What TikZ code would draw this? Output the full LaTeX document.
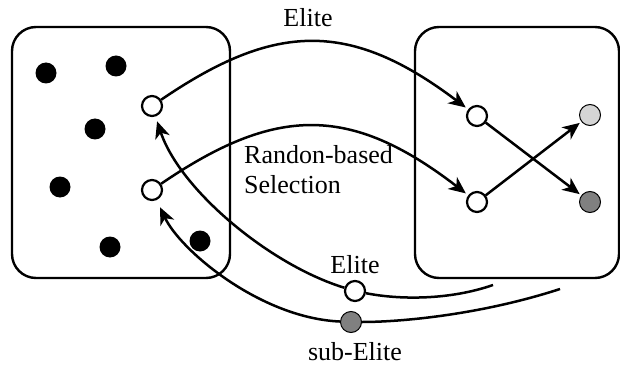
\documentclass[tikz,border=0pt]{standalone}
\usepackage{fontspec}
\setmainfont{Liberation Serif}
\usetikzlibrary{arrows.meta}
\definecolor{lightdot}{HTML}{D4D4D4}
\definecolor{darkdot}{HTML}{808080}
\begin{document}
\begin{tikzpicture}[x=1pt,y=-1pt,
  box/.style={draw,line width=2.4pt,rounded corners=24pt},
  dot/.style={circle,inner sep=0pt,minimum size=21pt,fill=black},
  hollow/.style={circle,inner sep=0pt,minimum size=20pt,draw,line width=2.2pt,fill=white},
  shade/.style={circle,inner sep=0pt,minimum size=21pt,draw,line width=1pt},
  arrowline/.style={line width=2.5pt,arrows={-Stealth[length=17pt,width=15pt,inset=5pt]}},
  plain/.style={line width=2.5pt},
  lbl/.style={font=\fontsize{26}{30}\selectfont,inner sep=0pt}
]
\useasboundingbox (0,0) rectangle (620,366);

% the two populations
\draw[box] (12,27) rectangle (230,278);
\draw[box] (415,27) rectangle (619,278);

% individuals of the first population
\node[dot] (d1) at (46,73) {};
\node[dot] (d2) at (116,66) {};
\node[dot] (d3) at (95,129) {};
\node[dot] (d4) at (60,187) {};
\node[dot] (d5) at (110,247) {};
\node[dot] (d6) at (200,241) {};
\node[hollow] (a1) at (152,106) {};
\node[hollow] (a2) at (152,190) {};

% parents and offspring in the second population
\node[hollow] (b1) at (477,116) {};
\node[hollow] (b2) at (477,202) {};
\node[shade,fill=lightdot] (c1) at (590,115) {};
\node[shade,fill=darkdot] (c2) at (590,202) {};

% selection arcs
\draw[arrowline,shorten >=3pt] (a1) .. controls (275,22) and (350,20) .. (b1);
\draw[arrowline,shorten >=3pt] (a2) .. controls (275,106) and (350,104) .. (b2);
\node[lbl] (tElite) at (308,18) {Elite};
\node[lbl,align=left,anchor=west] (tRand) at (244,170) {Randon-based\\Selection};

% crossover
\draw[arrowline,shorten >=2pt] (b1) -- (c2);
\draw[arrowline,shorten >=2pt] (b2) -- (c1);

% individuals carried back to the first population
\coordinate (r1) at (493,285);
\coordinate (r2) at (560,289);
\node[hollow] (e1) at (355,291) {};
\node[shade,fill=darkdot] (e2) at (351,322) {};
\draw[plain] (r1) .. controls (450,300) and (400,300) .. (e1);
\draw[arrowline,shorten >=5pt] (e1) .. controls (270,265) and (180,190) .. (a1);
\draw[plain] (r2) .. controls (480,315) and (400,322) .. (e2);
\draw[arrowline,shorten >=8pt] (e2) .. controls (260,318) and (180,250) .. (a2);
\node[lbl] (tElite2) at (355,265) {Elite};
\node[lbl] (tSub) at (355,352) {sub-Elite};
\end{tikzpicture}
\end{document}
